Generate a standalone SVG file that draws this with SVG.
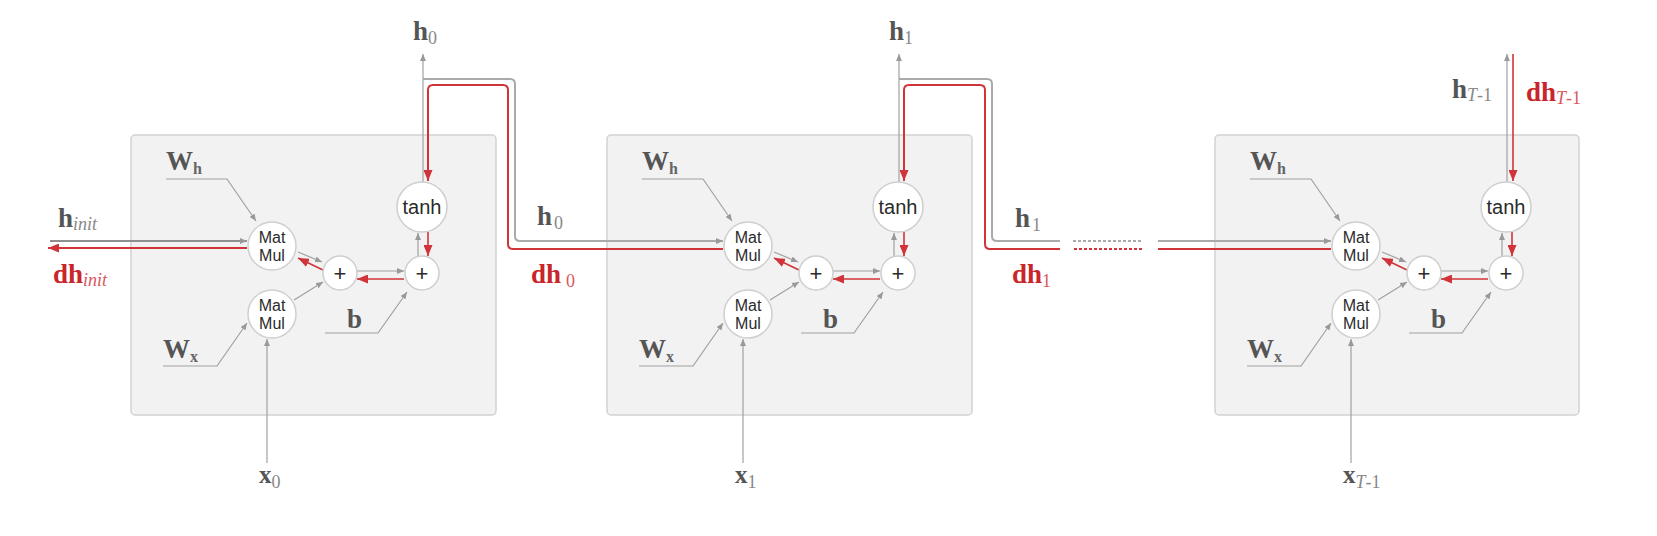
<svg xmlns="http://www.w3.org/2000/svg" width="1657" height="536" viewBox="0 0 1657 536">
<style>
.box{fill:#f2f2f2;stroke:#d2d2d2;stroke-width:1.5}
.nd{fill:#fff;stroke:#cfcfcf;stroke-width:1.5}
.op{font-family:"Liberation Sans",Arial,sans-serif;fill:#2a2a2a;text-anchor:middle}
.mm{font-size:16px}
.th{font-size:20px}
.pl{font-size:22px}
.lb{font-family:"Liberation Serif","Times New Roman",serif;font-weight:bold;font-size:27px;fill:#555}
.lbr{fill:#c9252b}
.sub{font-weight:normal;font-size:18px;fill:#888}
.subr{font-weight:normal;font-size:18px;fill:#d9585c}
.subb{font-weight:bold;font-size:16px;fill:#666}
.it{font-style:italic}
.g{fill:none;stroke:#a0a0a0;stroke-width:1.2}
.gm{fill:none;stroke:#aaaaaa;stroke-width:2}
.gd{fill:none;stroke:#8f8f8f;stroke-width:2}
.r{fill:none;stroke:#d0343a;stroke-width:1.6}
.rm{fill:none;stroke:#d0343a;stroke-width:2}
.dash{stroke-dasharray:3 2}
</style>
<defs>
<marker id="ag" markerUnits="userSpaceOnUse" markerWidth="7" markerHeight="6" refX="7" refY="3" orient="auto"><path d="M0,0 L7,3 L0,6 z" fill="#999"/></marker>
<marker id="ar" markerUnits="userSpaceOnUse" markerWidth="11" markerHeight="9" refX="11" refY="4.5" orient="auto"><path d="M0,0 L11,4.5 L0,9 z" fill="#d0343a"/></marker>
</defs>

<g id="boxes">
<rect class="box" x="131" y="135" width="365" height="280" rx="4"/>
<rect class="box" x="607" y="135" width="365" height="280" rx="4"/>
<rect class="box" x="1215" y="135" width="364" height="280" rx="4"/>
</g>

<g id="connectors">
<g id="cell0-conn">
<path class="g" d="M166,179 H227 L256,221" marker-end="url(#ag)"/>
<path class="g" d="M298,252 L322,262" marker-end="url(#ag)"/>
<path class="g" d="M294,300 L323,282" marker-end="url(#ag)"/>
<path class="g" d="M357,271 H404" marker-end="url(#ag)"/>
<path class="g" d="M325,333 H378 L407,292" marker-end="url(#ag)"/>
<path class="g" d="M418,256 V233" marker-end="url(#ag)"/>
<path class="g" d="M163,366 H217 L247,323" marker-end="url(#ag)"/>
<path class="g" d="M267,463 V339" marker-end="url(#ag)"/>
<path class="g" d="M423,182 V54" marker-end="url(#ag)"/>
<path class="r" d="M428,232 V256" marker-end="url(#ar)"/>
<path class="r" d="M404,279 H357" marker-end="url(#ar)"/>
<path class="r" d="M323,270 L298,258" marker-end="url(#ar)"/>
</g>
<g id="cell1-conn" transform="translate(476,0)">
<path class="g" d="M166,179 H227 L256,221" marker-end="url(#ag)"/>
<path class="g" d="M298,252 L322,262" marker-end="url(#ag)"/>
<path class="g" d="M294,300 L323,282" marker-end="url(#ag)"/>
<path class="g" d="M357,271 H404" marker-end="url(#ag)"/>
<path class="g" d="M325,333 H378 L407,292" marker-end="url(#ag)"/>
<path class="g" d="M418,256 V233" marker-end="url(#ag)"/>
<path class="g" d="M163,366 H217 L247,323" marker-end="url(#ag)"/>
<path class="g" d="M267,463 V339" marker-end="url(#ag)"/>
<path class="g" d="M423,182 V54" marker-end="url(#ag)"/>
<path class="r" d="M428,232 V256" marker-end="url(#ar)"/>
<path class="r" d="M404,279 H357" marker-end="url(#ar)"/>
<path class="r" d="M323,270 L298,258" marker-end="url(#ar)"/>
</g>
<g id="cell2-conn" transform="translate(1084,0)">
<path class="g" d="M166,179 H227 L256,221" marker-end="url(#ag)"/>
<path class="g" d="M298,252 L322,262" marker-end="url(#ag)"/>
<path class="g" d="M294,300 L323,282" marker-end="url(#ag)"/>
<path class="g" d="M357,271 H404" marker-end="url(#ag)"/>
<path class="g" d="M325,333 H378 L407,292" marker-end="url(#ag)"/>
<path class="g" d="M418,256 V233" marker-end="url(#ag)"/>
<path class="g" d="M163,366 H217 L247,323" marker-end="url(#ag)"/>
<path class="g" d="M267,463 V339" marker-end="url(#ag)"/>
<path class="g" d="M423,182 V54" marker-end="url(#ag)"/>
<path class="r" d="M429,54 V181" marker-end="url(#ar)"/>
<path class="r" d="M428,232 V256" marker-end="url(#ar)"/>
<path class="r" d="M404,279 H357" marker-end="url(#ar)"/>
<path class="r" d="M323,270 L298,258" marker-end="url(#ar)"/>
</g>
<g id="recurrent">
<path class="gd" d="M50,241 H247" marker-end="url(#ag)"/>
<path class="rm" d="M247,248 H48" marker-end="url(#ar)"/>
<path class="gm" d="M423,79 H510 Q515,79 515,84 V236 Q515,241 520,241 H723" marker-end="url(#ag)"/>
<path class="rm" d="M723,249 H513 Q508,249 508,244 V90 Q508,85 503,85 H433 Q428,85 428,90 V181" marker-end="url(#ar)"/>
<path class="gm" d="M899,79 H987 Q992,79 992,84 V236 Q992,241 997,241 H1060"/>
<path class="gm dash" d="M1073,241 H1142"/>
<path class="gm" d="M1158,241 H1331" marker-end="url(#ag)"/>
<path class="rm" d="M1331,249 H1158"/>
<path class="rm dash" d="M1142,249 H1073"/>
<path class="rm" d="M1060,249 H990 Q985,249 985,244 V90 Q985,85 980,85 H909 Q904,85 904,90 V181" marker-end="url(#ar)"/>
</g>
</g>

<g id="cell0" transform="translate(0,0)">
<g id="c0-matmul-h"><circle class="nd" cx="272" cy="246" r="24"/><text class="op mm" x="272" y="243">Mat</text><text class="op mm" x="272" y="261">Mul</text></g>
<g id="c0-matmul-x"><circle class="nd" cx="272" cy="314" r="24"/><text class="op mm" x="272" y="311">Mat</text><text class="op mm" x="272" y="329">Mul</text></g>
<g id="c0-plus1"><circle class="nd" cx="340" cy="273" r="17"/><text class="op pl" x="340" y="281">+</text></g>
<g id="c0-plus2"><circle class="nd" cx="422" cy="273" r="17"/><text class="op pl" x="422" y="281">+</text></g>
<g id="c0-tanh"><circle class="nd" cx="422" cy="207" r="25"/><text class="op th" x="422" y="214">tanh</text></g>
<g id="c0-Wh"><text class="lb" x="166" y="170">W<tspan class="subb" dy="4">h</tspan></text></g>
<g id="c0-Wx"><text class="lb" x="163" y="358">W<tspan class="subb" dy="4">x</tspan></text></g>
<g id="c0-b"><text class="lb" x="347" y="328">b</text></g>
</g>
<g id="cell1" transform="translate(476,0)">
<g id="c1-matmul-h"><circle class="nd" cx="272" cy="246" r="24"/><text class="op mm" x="272" y="243">Mat</text><text class="op mm" x="272" y="261">Mul</text></g>
<g id="c1-matmul-x"><circle class="nd" cx="272" cy="314" r="24"/><text class="op mm" x="272" y="311">Mat</text><text class="op mm" x="272" y="329">Mul</text></g>
<g id="c1-plus1"><circle class="nd" cx="340" cy="273" r="17"/><text class="op pl" x="340" y="281">+</text></g>
<g id="c1-plus2"><circle class="nd" cx="422" cy="273" r="17"/><text class="op pl" x="422" y="281">+</text></g>
<g id="c1-tanh"><circle class="nd" cx="422" cy="207" r="25"/><text class="op th" x="422" y="214">tanh</text></g>
<g id="c1-Wh"><text class="lb" x="166" y="170">W<tspan class="subb" dy="4">h</tspan></text></g>
<g id="c1-Wx"><text class="lb" x="163" y="358">W<tspan class="subb" dy="4">x</tspan></text></g>
<g id="c1-b"><text class="lb" x="347" y="328">b</text></g>
</g>
<g id="cell2" transform="translate(1084,0)">
<g id="c2-matmul-h"><circle class="nd" cx="272" cy="246" r="24"/><text class="op mm" x="272" y="243">Mat</text><text class="op mm" x="272" y="261">Mul</text></g>
<g id="c2-matmul-x"><circle class="nd" cx="272" cy="314" r="24"/><text class="op mm" x="272" y="311">Mat</text><text class="op mm" x="272" y="329">Mul</text></g>
<g id="c2-plus1"><circle class="nd" cx="340" cy="273" r="17"/><text class="op pl" x="340" y="281">+</text></g>
<g id="c2-plus2"><circle class="nd" cx="422" cy="273" r="17"/><text class="op pl" x="422" y="281">+</text></g>
<g id="c2-tanh"><circle class="nd" cx="422" cy="207" r="25"/><text class="op th" x="422" y="214">tanh</text></g>
<g id="c2-Wh"><text class="lb" x="166" y="170">W<tspan class="subb" dy="4">h</tspan></text></g>
<g id="c2-Wx"><text class="lb" x="163" y="358">W<tspan class="subb" dy="4">x</tspan></text></g>
<g id="c2-b"><text class="lb" x="347" y="328">b</text></g>
</g>

<g id="labels">
<g id="lbl-hinit"><text class="lb" x="58" y="227">h<tspan class="sub it" dy="3">init</tspan></text></g>
<g id="lbl-dhinit"><text class="lb lbr" x="53" y="283">dh<tspan class="subr it" dy="3">init</tspan></text></g>
<g id="lbl-h0-top"><text class="lb" x="413" y="40">h<tspan class="sub" dy="4">0</tspan></text></g>
<g id="lbl-h0"><text class="lb" x="537" y="225">h<tspan class="sub" dy="4" dx="2">0</tspan></text></g>
<g id="lbl-dh0"><text class="lb lbr" x="531" y="283">dh<tspan class="subr" dy="4" dx="5">0</tspan></text></g>
<g id="lbl-h1-top"><text class="lb" x="889" y="40">h<tspan class="sub" dy="4">1</tspan></text></g>
<g id="lbl-h1"><text class="lb" x="1015" y="227">h<tspan class="sub" dy="4" dx="2">1</tspan></text></g>
<g id="lbl-dh1"><text class="lb lbr" x="1012" y="283">dh<tspan class="subr" dy="4">1</tspan></text></g>
<g id="lbl-hT"><text class="lb" x="1452" y="98">h<tspan class="sub" dy="3"><tspan class="it">T</tspan>-1</tspan></text></g>
<g id="lbl-dhT"><text class="lb lbr" x="1526" y="101">dh<tspan class="subr" dy="3"><tspan class="it">T</tspan>-1</tspan></text></g>
<g id="lbl-x0"><text class="lb" x="259" y="483" style="font-size:25px">x<tspan class="sub" dy="5">0</tspan></text></g>
<g id="lbl-x1"><text class="lb" x="735" y="483" style="font-size:25px">x<tspan class="sub" dy="5">1</tspan></text></g>
<g id="lbl-xT"><text class="lb" x="1343" y="483" style="font-size:25px">x<tspan class="sub" dy="5"><tspan class="it">T</tspan>-1</tspan></text></g>
</g>
</svg>
